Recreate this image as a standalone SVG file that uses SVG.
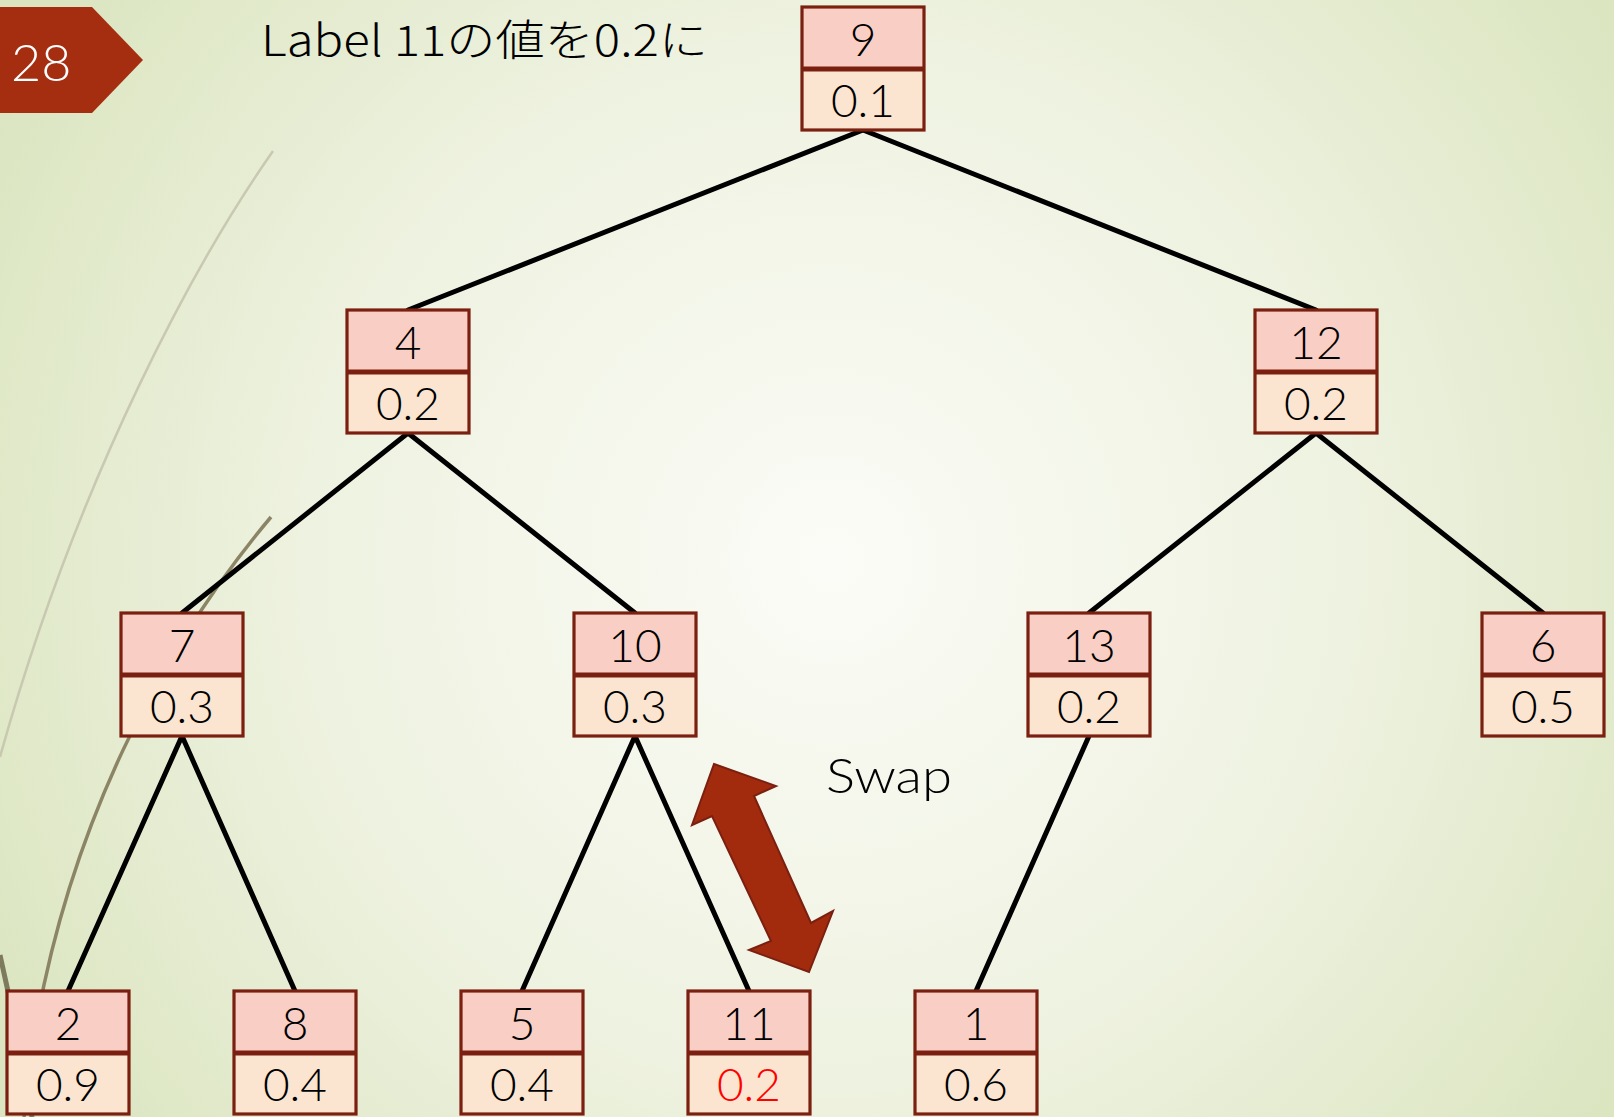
<svg xmlns="http://www.w3.org/2000/svg" width="1614" height="1117" viewBox="0 0 1614 1117">
<defs>
<radialGradient id="bg" cx="830" cy="560" r="950" gradientUnits="userSpaceOnUse">
<stop offset="0" stop-color="#fbfcf7"/>
<stop offset="0.55" stop-color="#eef2e0"/>
<stop offset="1" stop-color="#dbe5c0"/>
</radialGradient>
<style>
.top{fill:#f9cec4;stroke:none}
.bot{fill:#fbe5d0;stroke:none}
.frame{fill:none;stroke:#7b2010;stroke-width:3.2}
.div{stroke:#7b2010;stroke-width:5}
.t{font-family:"Lato","Liberation Sans",sans-serif;font-weight:300;font-size:46px;fill:#000;text-anchor:middle}
.edge{stroke:#000;stroke-width:5;stroke-linecap:round;fill:none}
</style>
</defs>
<rect x="0" y="0" width="1614" height="1117" fill="url(#bg)"/>
<g id="decor" fill="none">
<path d="M273,151 C200,255 80,470 0,757" stroke="#c8c9b0" stroke-width="2.5"/>
<path d="M271,517 C180,625 50,830 24,1117" stroke="#8b8566" stroke-width="3.5"/>
<path d="M0,955 C12,1010 24,1060 32,1117" stroke="#7e7a5e" stroke-width="5"/>
</g>
<g id="badge">
<polygon points="0,7 92,7 143,60 92,113 0,113" fill="#a52e10"/>
<text x="11" y="81" font-family="Lato, 'Liberation Sans', sans-serif" font-weight="300" font-size="52" fill="#fff">28</text>
</g>
<text id="title" x="261" y="56" font-family="'Noto Sans CJK JP', sans-serif" font-weight="300" font-size="43" fill="#000" textLength="447" lengthAdjust="spacingAndGlyphs">Label 11の値を0.2に</text>
<g id="connectors">
<line class="edge" x1="863" y1="130" x2="408" y2="310"/>
<line class="edge" x1="863" y1="130" x2="1316" y2="310"/>
<line class="edge" x1="408" y1="433" x2="182" y2="613"/>
<line class="edge" x1="408" y1="433" x2="635" y2="613"/>
<line class="edge" x1="1316" y1="433" x2="1089" y2="613"/>
<line class="edge" x1="1316" y1="433" x2="1543" y2="613"/>
<line class="edge" x1="182" y1="736" x2="68" y2="991"/>
<line class="edge" x1="182" y1="736" x2="295" y2="991"/>
<line class="edge" x1="635" y1="736" x2="522" y2="991"/>
<line class="edge" x1="635" y1="736" x2="749" y2="991"/>
<line class="edge" x1="1089" y1="736" x2="976" y2="991"/>
</g>
<g id="n9" transform="translate(802,7)"><rect class="top" width="122" height="62"/><rect class="bot" y="62" width="122" height="61"/><rect class="frame" width="122" height="123"/><line class="div" x1="0" y1="62" x2="122" y2="62"/><text class="t" x="61" y="49">9</text><text class="t" x="61" y="110">0.1</text></g>
<g id="n4" transform="translate(347,310)"><rect class="top" width="122" height="62"/><rect class="bot" y="62" width="122" height="61"/><rect class="frame" width="122" height="123"/><line class="div" x1="0" y1="62" x2="122" y2="62"/><text class="t" x="61" y="49">4</text><text class="t" x="61" y="110">0.2</text></g>
<g id="n12" transform="translate(1255,310)"><rect class="top" width="122" height="62"/><rect class="bot" y="62" width="122" height="61"/><rect class="frame" width="122" height="123"/><line class="div" x1="0" y1="62" x2="122" y2="62"/><text class="t" x="61" y="49">12</text><text class="t" x="61" y="110">0.2</text></g>
<g id="n7" transform="translate(121,613)"><rect class="top" width="122" height="62"/><rect class="bot" y="62" width="122" height="61"/><rect class="frame" width="122" height="123"/><line class="div" x1="0" y1="62" x2="122" y2="62"/><text class="t" x="61" y="49">7</text><text class="t" x="61" y="110">0.3</text></g>
<g id="n10" transform="translate(574,613)"><rect class="top" width="122" height="62"/><rect class="bot" y="62" width="122" height="61"/><rect class="frame" width="122" height="123"/><line class="div" x1="0" y1="62" x2="122" y2="62"/><text class="t" x="61" y="49">10</text><text class="t" x="61" y="110">0.3</text></g>
<g id="n13" transform="translate(1028,613)"><rect class="top" width="122" height="62"/><rect class="bot" y="62" width="122" height="61"/><rect class="frame" width="122" height="123"/><line class="div" x1="0" y1="62" x2="122" y2="62"/><text class="t" x="61" y="49">13</text><text class="t" x="61" y="110">0.2</text></g>
<g id="n6" transform="translate(1482,613)"><rect class="top" width="122" height="62"/><rect class="bot" y="62" width="122" height="61"/><rect class="frame" width="122" height="123"/><line class="div" x1="0" y1="62" x2="122" y2="62"/><text class="t" x="61" y="49">6</text><text class="t" x="61" y="110">0.5</text></g>
<g id="n2" transform="translate(7,991)"><rect class="top" width="122" height="62"/><rect class="bot" y="62" width="122" height="61"/><rect class="frame" width="122" height="123"/><line class="div" x1="0" y1="62" x2="122" y2="62"/><text class="t" x="61" y="49">2</text><text class="t" x="61" y="110">0.9</text></g>
<g id="n8" transform="translate(234,991)"><rect class="top" width="122" height="62"/><rect class="bot" y="62" width="122" height="61"/><rect class="frame" width="122" height="123"/><line class="div" x1="0" y1="62" x2="122" y2="62"/><text class="t" x="61" y="49">8</text><text class="t" x="61" y="110">0.4</text></g>
<g id="n5" transform="translate(461,991)"><rect class="top" width="122" height="62"/><rect class="bot" y="62" width="122" height="61"/><rect class="frame" width="122" height="123"/><line class="div" x1="0" y1="62" x2="122" y2="62"/><text class="t" x="61" y="49">5</text><text class="t" x="61" y="110">0.4</text></g>
<g id="n11" transform="translate(688,991)"><rect class="top" width="122" height="62"/><rect class="bot" y="62" width="122" height="61"/><rect class="frame" width="122" height="123"/><line class="div" x1="0" y1="62" x2="122" y2="62"/><text class="t" x="61" y="49">11</text><text class="t" x="61" y="110" style="fill:#ff0000">0.2</text></g>
<g id="n1" transform="translate(915,991)"><rect class="top" width="122" height="62"/><rect class="bot" y="62" width="122" height="61"/><rect class="frame" width="122" height="123"/><line class="div" x1="0" y1="62" x2="122" y2="62"/><text class="t" x="61" y="49">1</text><text class="t" x="61" y="110">0.6</text></g>
<g id="swap">
<polygon points="714,764 776,786 754,796 811,923 833,911 809,972 749,950 771,941 712,816 692,825" fill="#a22b0e" stroke="#7b2010" stroke-width="2" stroke-linejoin="miter"/>
<text x="826" y="793" font-family="Lato, 'Liberation Sans', sans-serif" font-weight="300" font-size="48" fill="#000" textLength="126" lengthAdjust="spacingAndGlyphs">Swap</text>
</g>
</svg>
